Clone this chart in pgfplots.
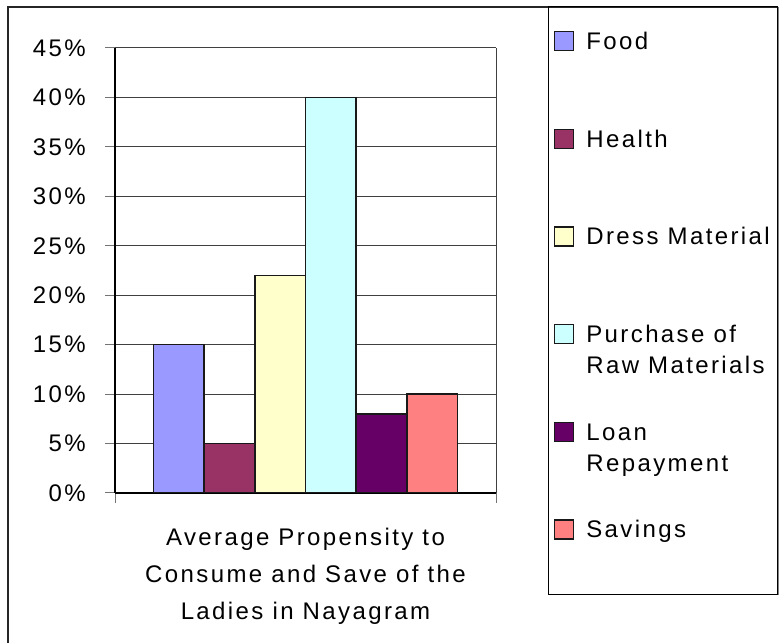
\documentclass[border=0pt]{standalone}
\usepackage{pgfplots}
\pgfplotsset{compat=1.18}
\usepackage{fontspec}
\setmainfont{Liberation Sans}[LetterSpace=10]
\newcommand\cf{\fontsize{24bp}{29bp}\selectfont}
\definecolor{cFood}{HTML}{9999FF}
\definecolor{cHealth}{HTML}{993366}
\definecolor{cDress}{HTML}{FFFFCC}
\definecolor{cRaw}{HTML}{CCFFFF}
\definecolor{cLoan}{HTML}{660066}
\definecolor{cSave}{HTML}{FF8080}
\begin{document}
\begin{tikzpicture}
\useasboundingbox (0,0) rectangle (781bp,643bp);
\draw[line width=1.2bp, black!85] (8bp,-5bp) -- (8bp,636bp) -- (777bp,636bp);
\draw[line width=1bp, black] (548bp,636bp) rectangle (777bp,48bp);
\draw[line width=1bp, black!50] (778.5bp,636bp) -- (778.5bp,48bp);
\begin{axis}[
  at={(115bp,150bp)}, anchor=south west,
  width=381bp, height=445bp, scale only axis,
  ybar=0pt, bar width=50.7bp,
  xmin=-1, xmax=1, ymin=0, ymax=45,
  xtick={-1,1}, xticklabels={,},
  ytick={0,5,...,45},
  yticklabels={0\%,5\%,10\%,15\%,20\%,25\%,30\%,35\%,40\%,45\%},
  axis lines*=left,
  tick align=outside, major tick length=10bp,
  xmajorgrids, ymajorgrids,
  major grid style={black!75, line width=1bp},
  tick style={black!55, line width=1bp},
  axis line style={black, line width=1.6bp},
  yticklabel style={font=\cf, inner sep=0pt, anchor=east, xshift=-19bp},
  /pgf/number format/assume math mode=true,
  xlabel={\begin{tabular}[t]{@{}c@{}}Average Propensity to\\Consume and Save of the\\Ladies in Nayagram\end{tabular}},
  xlabel style={at={(axis description cs:0.5,-0.1191)}, anchor=base, inner sep=0pt, font=\fontsize{24bp}{37bp}\selectfont},
  legend cell align=left,
  legend style={at={(1.15223,1.0382)}, anchor=north west, draw=none, fill=none,
    inner sep=0pt, outer sep=0pt, row sep=0pt, column sep=12bp,
    font=\fontsize{24bp}{31bp}\selectfont,
    cells={anchor=base west},
    nodes={inner sep=0pt, text height=18bp, text depth=79bp}},
  legend image code/.code={\draw[#1, line width=1.3bp] (0bp,-1bp) rectangle (19bp,18bp);},
  every axis plot/.append style={draw=black!90, line width=1.5bp},
]
\addplot[fill=cFood] coordinates {(0,15)};
\addlegendentry{Food}
\addplot[fill=cHealth] coordinates {(0,5)};
\addlegendentry{Health}
\addplot[fill=cDress] coordinates {(0,22)};
\addlegendentry{Dress Material}
\addplot[fill=cRaw] coordinates {(0,40)};
\addlegendentry{\begin{tabular}[t]{@{}l@{}}Purchase of\\Raw Materials\end{tabular}}
\addplot[fill=cLoan] coordinates {(0,8)};
\addlegendentry{\begin{tabular}[t]{@{}l@{}}Loan\\Repayment\end{tabular}}
\addplot[fill=cSave] coordinates {(0,10)};
\addlegendentry{Savings}
\end{axis}
\end{tikzpicture}
\end{document}
